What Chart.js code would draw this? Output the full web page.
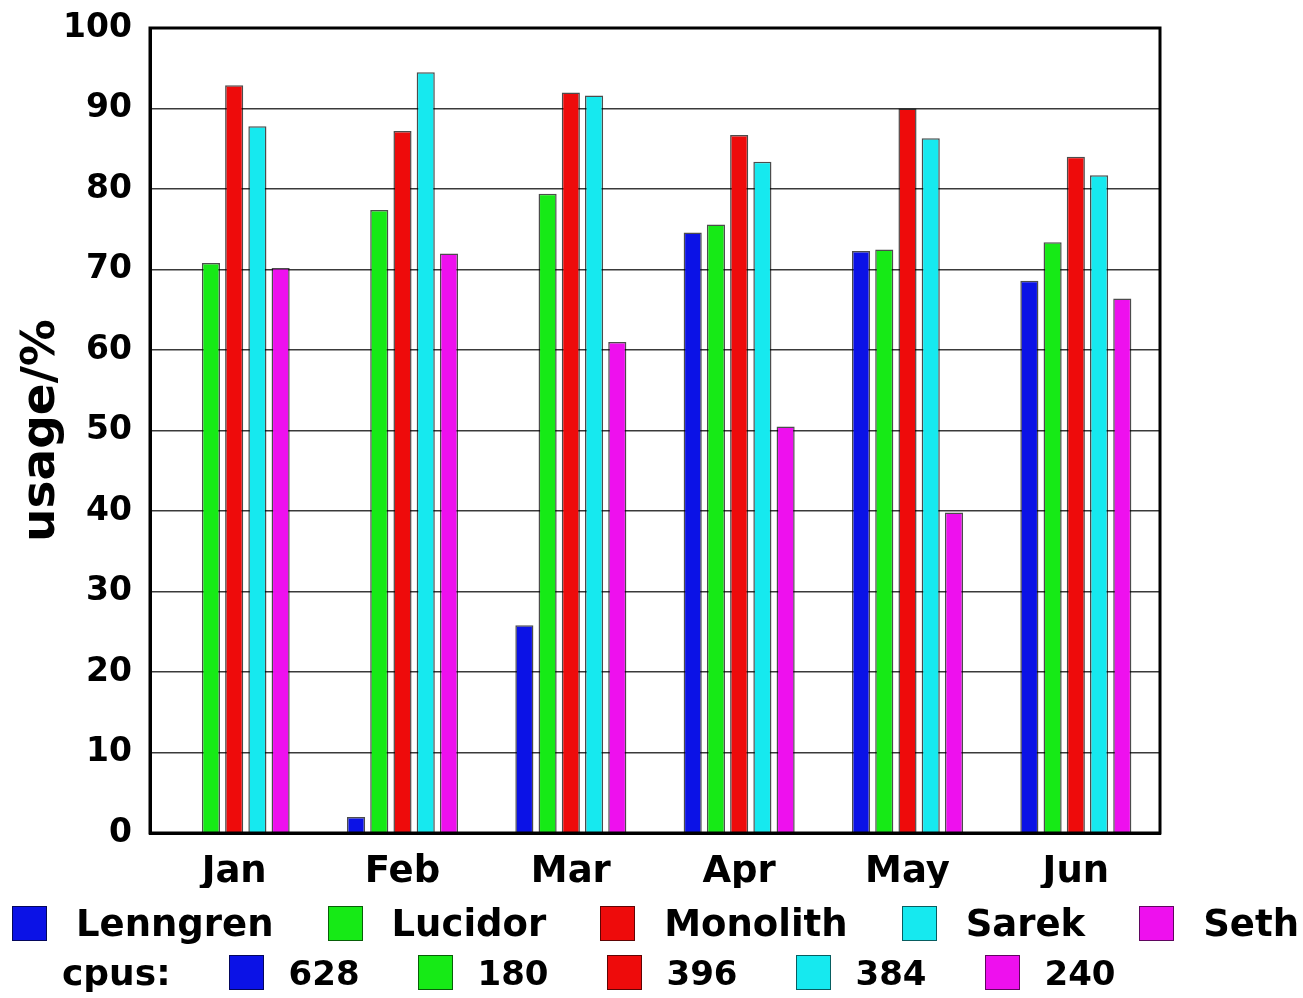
<!DOCTYPE html>
<html>
<head>
<meta charset="utf-8">
<script src="https://cdn.jsdelivr.net/npm/chart.js@4/dist/chart.umd.min.js"></script>
<style>
  html, body { margin: 0; padding: 0; background: #fff; }
  #wrap { position: relative; width: 1303px; height: 998px; }
  #chart { position: absolute; left: 0; top: 0; }
  .legend { position: absolute; display: flex; align-items: center; font-family: "DejaVu Sans", sans-serif; font-weight: bold; color: #000; white-space: nowrap; }
  .legend .item { display: flex; align-items: center; }
  .legend .sw { width: 35px; height: 35px; box-sizing: border-box; border: 1.5px solid rgba(0,0,0,0.6); }
  #row1 { left: 12px; top: 902px; font-size: 37px; }
  #row1 .item { margin-right: 54px; }
  #row1 .sw { margin-right: 29px; }
  #row2 { left: 62px; top: 952px; font-size: 34px; }
  #row2 .item { margin-right: 58px; }
  #row2 .sw { margin-right: 25px; }
  #row2 .lbl { margin-right: 58px; font-size: 36px; }
</style>
</head>
<body>
<div id="wrap">
  <canvas id="chart" width="1303" height="998"></canvas>
  <div class="legend" id="row1"></div>
  <div class="legend" id="row2"><span class="lbl">cpus:</span></div>
</div>
<script>
const months = ['Jan', 'Feb', 'Mar', 'Apr', 'May', 'Jun'];
const machines = ['Lenngren', 'Lucidor', 'Monolith', 'Sarek', 'Seth'];
const cpus = [628, 180, 396, 384, 240];
const colors = ['#0b12e6', '#16ea16', '#ee0b0b', '#16e9ef', '#ee10ee'];

const lenngren = [null, 2.0, 25.8, 74.6, 72.3, 68.6];
const lucidor  = [70.8, 77.4, 79.4, 75.6, 72.5, 73.4];
const monolith = [92.9, 87.2, 92.0, 86.7, 90.0, 84.0];
const sarek    = [87.8, 94.5, 91.6, 83.4, 86.3, 81.7];
const seth     = [70.2, 72.0, 61.0, 50.5, 39.8, 66.4];

const yTicks = [0, 10, 20, 30, 40, 50, 60, 70, 80, 90, 100];

const seriesValues = [lenngren, lucidor, monolith, sarek, seth];

Chart.defaults.color = '#000';
Chart.defaults.font.family = '"DejaVu Sans", sans-serif';
Chart.defaults.font.weight = 'bold';

// frame round the plot area
const frame = {
    id: 'frame',
    afterDraw(chart) {
        const a = chart.chartArea;
        const ctx = chart.ctx;
        ctx.save();
        ctx.strokeStyle = '#000';
        ctx.lineWidth = 3;
        ctx.strokeRect(a.left, a.top, a.right - a.left, a.bottom - a.top);
        ctx.restore();
    }
};

const ctx = document.getElementById('chart').getContext('2d');
new Chart(ctx, {
    type: 'bar',
    data: {
        labels: months,
        datasets: machines.map((name, i) => ({
            label: name,
            data: seriesValues[i],
            backgroundColor: colors[i],
            borderColor: 'rgba(0,0,0,0.7)',
            borderWidth: 1.5,
            borderSkipped: 'bottom',
            categoryPercentage: 0.69,
            barPercentage: 0.78
        }))
    },
    options: {
        responsive: false,
        animation: false,
        layout: { padding: { left: 0, right: 143, top: 28, bottom: 110 } },
        plugins: { legend: { display: false }, tooltip: { enabled: false } },
        scales: {
            x: {
                afterFit: (s) => { s.height = 55; },
                grid: { display: false, drawTicks: false },
                border: { color: '#000', width: 3 },
                ticks: { font: { size: 37, weight: 'bold' }, padding: 17 }
            },
            y: {
                min: 0,
                max: 100,
                afterBuildTicks: (s) => { s.ticks = yTicks.map(v => ({ value: v })); },
                afterFit: (s) => { s.width = 150; s.paddingTop = 0; s.paddingBottom = 0; },
                grid: { color: '#3a3a3a', lineWidth: 1.5, drawTicks: false },
                border: { color: '#000', width: 3 },
                ticks: { font: { size: 33, weight: 'bold' }, padding: 18 },
                title: {
                    display: true,
                    text: 'usage/%',
                    font: { size: 47, weight: 'bold' },
                    padding: { top: 14, bottom: 0 }
                }
            }
        }
    },
    plugins: [frame]
});

// two-row legend under the chart
const row1 = document.getElementById('row1');
const row2 = document.getElementById('row2');
machines.forEach((name, i) => {
    const it = document.createElement('span');
    it.className = 'item';
    it.innerHTML = '<span class="sw" style="background:' + colors[i] + '"></span><span>' + name + '</span>';
    row1.appendChild(it);
    const it2 = document.createElement('span');
    it2.className = 'item';
    it2.innerHTML = '<span class="sw" style="background:' + colors[i] + '"></span><span>' + cpus[i] + '</span>';
    row2.appendChild(it2);
});
</script>
</body>
</html>
